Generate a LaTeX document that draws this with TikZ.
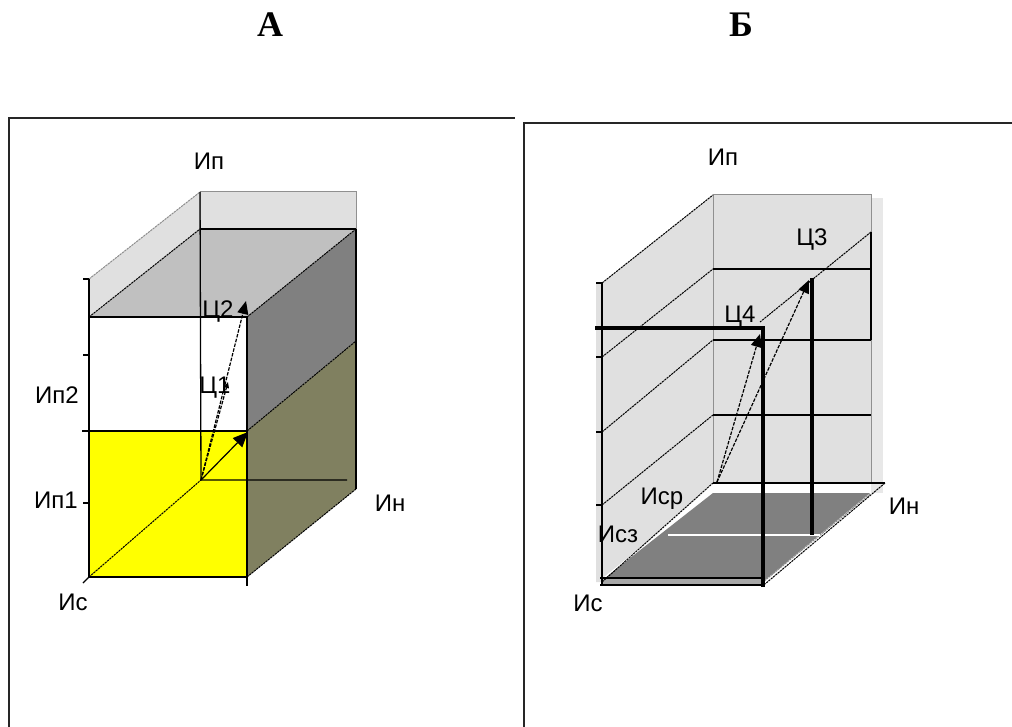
\documentclass[tikz,border=0pt]{standalone}
\usepackage{fontspec}
\setmainfont{Liberation Sans}
\newfontfamily\titlefont{Liberation Serif}
\usetikzlibrary{arrows.meta}

\definecolor{lgray}{HTML}{E0E0E0}
\definecolor{shadowgray}{HTML}{E8E8E8}
\definecolor{topgray}{HTML}{C0C0C0}
\definecolor{midgray}{HTML}{808080}
\definecolor{olivegray}{HTML}{808060}
\definecolor{edgegray}{HTML}{909090}
\definecolor{stripgray}{HTML}{A8A8A8}
\definecolor{pureyellow}{RGB}{255,255,0}

\begin{document}
\begin{tikzpicture}[x=1pt,y=-1pt,
  lbl/.style={font=\fontsize{24}{26}\selectfont, inner sep=0pt},
  ttl/.style={font=\titlefont\bfseries\fontsize{36}{38}\selectfont, inner sep=0pt},
  frameline/.style={line width=1.6pt, black!85},
  edge/.style={line width=1.3pt, black},
  fine/.style={line width=1pt, black, dash pattern=on 2.2pt off 0.8pt},
  faint/.style={line width=1pt, black!45, dash pattern=on 2.2pt off 0.8pt},
  heavy/.style={line width=3.6pt, black},
  vec/.style={line width=1.2pt, dash pattern=on 3.5pt off 1.4pt, -{Triangle[length=13pt,width=11pt]}},
  smallvec/.style={line width=1.2pt, dash pattern=on 3.5pt off 1.4pt, -{Triangle[length=6pt,width=5pt]}},
  solidvec/.style={line width=1.2pt, -{Triangle[length=15pt,width=13pt]}}
]
\useasboundingbox (0,0) rectangle (1012,727);

% panel titles
\node[ttl] (tA) at (270,25) {А};
\node[ttl] (tB) at (741,25) {Б};

% panel frames
\draw[frameline] (9,727) -- (9,118) -- (515,118);
\draw[frameline] (524,727) -- (524,123) -- (1012,123);

% ================= panel A =================
% key points
\coordinate (aO)  at (201,480);   % back bottom corner
\coordinate (aS)  at (89,577);    % Ис end
\coordinate (aC1) at (228,382);
\coordinate (aC2) at (246,301);
\coordinate (aY)  at (248,432);

% faces
\fill[lgray] (200,192) rectangle (356,229);
\fill[lgray] (89,279) -- (200,192) -- (200,229) -- (89,317) -- cycle;
\fill[topgray] (89,317) -- (247,317) -- (356,229) -- (200,229) -- cycle;
\fill[midgray] (247,317) -- (356,229) -- (356,341) -- (247,431) -- cycle;
\fill[olivegray] (247,431) -- (356,341) -- (356,489) -- (247,577) -- cycle;
\fill[pureyellow] (89,431) rectangle (247,577);

% edges
\draw[line width=1pt, edgegray] (200,192) rectangle (356,229);
\draw[faint] (89,279) -- (200,192);
\draw[fine] (89,317) -- (200,229);
\draw[fine] (247,317) -- (356,229);
\draw[fine] (247,431) -- (356,341);
\draw[fine] (247,577) -- (356,489);
\draw[edge] (89,279) -- (89,577) -- (247,577);
\draw[edge] (83,279) -- (89,279);
\draw[edge] (83,355) -- (89,355);
\draw[edge] (83,503) -- (89,503);
\draw[edge] (82,431) -- (247,431);
\draw[edge] (89,317) -- (247,317);
\draw[edge] (247,317) -- (247,586);
\draw[edge] (356,229) -- (356,489);
\draw[edge] (200,229) -- (356,229);
\draw[edge] (200,192) -- (aO) -- (347,480);
\draw[fine] (aS) -- (aO);
\draw[edge] (aS) -- ++(-6,6);

% vectors
\draw[solidvec] (aO) -- (aY);
\draw[smallvec] (aO) -- (aC1);
\draw[vec] (aO) -- (aC2);

% labels
\node[lbl] (aIp)  at (209,161) {Ип};
\node[lbl] (aIp2) at (57,395)  {Ип2};
\node[lbl] (aIp1) at (56,500)  {Ип1};
\node[lbl] (aIs)  at (73,602)  {Ис};
\node[lbl] (aIn)  at (390,503) {Ин};
\node[lbl] (aL2)  at (218,312) {Ц2};
\node[lbl] (aL1)  at (215,388) {Ц1};

% ================= panel B =================
\coordinate (bO)  at (717,482);
\coordinate (bC3) at (809,280);
\coordinate (bC4) at (760,334);

% walls
\fill[shadowgray] (871,198) rectangle (883,493);
\fill[lgray] (713,195) rectangle (871,483);
\fill[lgray] (596,283) -- (602,283) -- (713,195) -- (713,483) -- (602,582) -- (596,582) -- cycle;

% floor
\fill[midgray] (602,580) -- (765,580) -- (870,493) -- (713,493) -- cycle;
\fill[stripgray] (602,579) rectangle (765,585);
\draw[line width=1.2pt, white] (605,577) -- (713,490) -- (868,490);

% back wall grid
\draw[line width=1pt, edgegray] (713,195) rectangle (871,483);
\draw[edge] (713,269) -- (871,269);
\draw[edge] (713,340) -- (871,340);
\draw[edge] (713,415) -- (871,415);
\draw[edge] (871,232) -- (871,340);

% depth lines
\draw[fine] (602,283) -- (713,195);
\draw[fine] (602,357) -- (713,269);
\draw[fine] (602,432) -- (713,340);
\draw[fine] (602,505) -- (713,415);
\draw[fine] (602,582) -- (713,483);
\draw[fine] (871,232) -- (760,322);

% floor outline
\draw[edge] (713,483) -- (885,483);
\draw[fine] (885,483) -- (765,584);
\draw[faint] (870,494) -- (763,582);

% side axis with ticks
\draw[edge] (602,283) -- (602,585);
\draw[edge] (596,283) -- (602,283);
\draw[edge] (596,357) -- (602,357);
\draw[edge] (596,432) -- (602,432);
\draw[edge] (596,505) -- (602,505);
\draw[edge] (600,578) -- (765,578);
\draw[line width=1.8pt] (600,585) -- (765,585);

% white level line on the floor
\draw[line width=1.4pt, white] (668,535) -- (820,535);

% projection lines
\draw[heavy] (595,328) -- (763,328) -- (763,587);
\draw[heavy] (812,278) -- (812,535);

% vectors
\draw[vec] (bO) -- (bC4);
\draw[vec] (bO) -- (bC3);

% labels
\node[lbl] (bIp)  at (723,157) {Ип};
\node[lbl] (bL3)  at (812,240) {Ц3};
\node[lbl] (bL4)  at (740,317) {Ц4};
\node[lbl] (bIn)  at (904,506) {Ин};
\node[lbl] (bIs)  at (588,603) {Ис};
\node[lbl] (bIsr) at (662,499) {Иср};
\node[lbl] (bIsz) at (618,534) {Исз};
\end{tikzpicture}
\end{document}
